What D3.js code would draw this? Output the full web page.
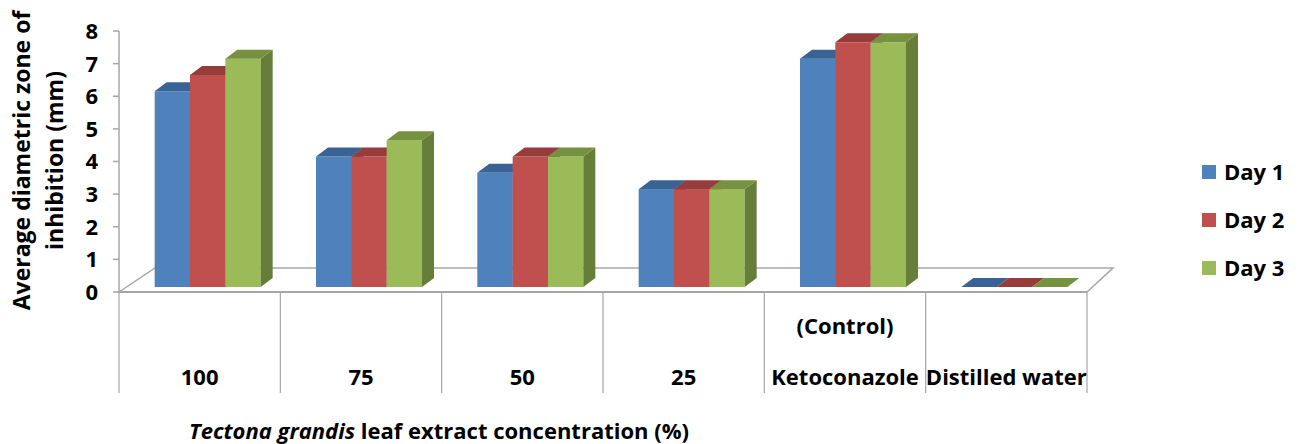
<!DOCTYPE html>
<html>
<head>
<meta charset="utf-8">
<script src="https://cdn.jsdelivr.net/npm/d3@7"></script>
<style>
  body { margin: 0; background: #fff; }
  svg { display: block; font-family: "Open Sans", Lato, sans-serif; font-weight: 700; }
</style>
</head>
<body>
<div id="chart"></div>
<script>
// data
const categories = ["100", "75", "50", "25", "Ketoconazole", "Distilled water"];
const seriesNames = ["Day 1", "Day 2", "Day 3"];
const day1 = [6, 4, 3.5, 3, 7, 0];
const day2 = [6.5, 4, 4, 3, 7.5, 0];
const day3 = [7, 4.5, 4, 3, 7.5, 0];
const yTicks = [0, 1, 2, 3, 4, 5, 6, 7, 8];

const seriesValues = [day1, day2, day3];
const colors = {
    front: ["#4F81BD", "#C0504D", "#9BBB59"],
    top: ["#3A6395", "#963C3A", "#76913F"],
    side: ["#3A5F8C", "#8E3A38", "#677E3A"]
};

const W = 1298, H = 444;
const fontSize = "22px";
const svg = d3.select("#chart").append("svg")
    .attr("width", W).attr("height", H);

// front plane scales
const y = d3.scaleLinear().domain([0, 8]).range([292, 31]);
const x = d3.scaleBand().domain(categories).range([119, 1087]);
const groupWidth = 106;
const xs = d3.scaleBand().domain(seriesNames).range([0, groupWidth]);

// 3d offsets
const floorDx = 36, floorDy = -24;   // depth of floor
const barShiftX = 8, barShiftY = -5; // bar front face set back from floor edge
const barDx = 12, barDy = -9;        // bar depth

const grid = "#a6a6a6";

// floor
const x0 = x.range()[0], x1 = x.range()[1], yb = y(0);
svg.append("path")
    .attr("d", `M${x0},${yb} L${x0 + floorDx},${yb + floorDy} L${x1 + floorDx - 10},${yb + floorDy} L${x1},${yb} Z`)
    .attr("fill", "#fff")
    .attr("stroke", grid)
    .attr("stroke-width", 1.5);

// y axis
svg.append("line")
    .attr("x1", x0).attr("x2", x0)
    .attr("y1", y(8)).attr("y2", y(0))
    .attr("stroke", grid).attr("stroke-width", 1.5);

svg.selectAll(".ytick").data(yTicks).enter()
    .append("line")
    .attr("class", "ytick")
    .attr("x1", x0 - 6).attr("x2", x0)
    .attr("y1", d => y(d)).attr("y2", d => y(d))
    .attr("stroke", grid).attr("stroke-width", 1.5);

svg.selectAll(".ylab").data(yTicks).enter()
    .append("text")
    .attr("class", "ylab")
    .attr("x", x0 - 21)
    .attr("y", d => y(d))
    .attr("dy", "0.36em")
    .attr("text-anchor", "end")
    .style("font-size", fontSize)
    .text(d => d);

// y axis title
const yTitle = svg.append("text")
    .attr("transform", `translate(30,${(y(8) + y(0)) / 2 - 1}) rotate(-90)`)
    .attr("text-anchor", "middle")
    .style("font-size", "23px");
yTitle.append("tspan").attr("x", 0).attr("y", 0).text("Average diametric zone of");
yTitle.append("tspan").attr("x", 0).attr("y", 33).text("inhibition (mm)");

// x category dividers
const bounds = categories.map(c => x(c)).concat([x1]);
svg.selectAll(".xdiv").data(bounds).enter()
    .append("line")
    .attr("class", "xdiv")
    .attr("x1", d => d).attr("x2", d => d)
    .attr("y1", yb).attr("y2", yb + 101)
    .attr("stroke", grid).attr("stroke-width", 1.2);

// front floor edge drawn over dividers
svg.append("line")
    .attr("x1", x0).attr("x2", x1)
    .attr("y1", yb).attr("y2", yb)
    .attr("stroke", grid).attr("stroke-width", 2);

// bars
const barW = xs.bandwidth();
categories.forEach((cat, ci) => {
    const gx = x(cat) + (x.bandwidth() - groupWidth) / 2 + barShiftX;
    seriesNames.forEach((s, si) => {
        const v = seriesValues[si][ci];
        const left = gx + xs(s);
        const right = left + barW;
        const bottom = y(0) + barShiftY;
        const top = y(v) + barShiftY;
        const g = svg.append("g").attr("class", "bar");
        if (v > 0) {
            g.append("rect")
                .attr("x", left).attr("y", top)
                .attr("width", barW).attr("height", bottom - top)
                .attr("fill", colors.front[si]);
            g.append("path")
                .attr("d", `M${right},${top} L${right + barDx},${top + barDy} L${right + barDx},${bottom + barDy} L${right},${bottom} Z`)
                .attr("fill", colors.side[si]);
        }
        g.append("path")
            .attr("d", `M${left},${top} L${left + barDx},${top + barDy} L${right + barDx},${top + barDy} L${right},${top} Z`)
            .attr("fill", colors.top[si]);
    });
});

// category labels
svg.selectAll(".xlab").data(categories).enter()
    .append("text")
    .attr("class", "xlab")
    .attr("x", d => x(d) + x.bandwidth() / 2)
    .attr("y", 385)
    .attr("text-anchor", "middle")
    .style("font-size", fontSize)
    .text(d => d);

svg.append("text")
    .attr("x", x("Ketoconazole") + x.bandwidth() / 2)
    .attr("y", 334)
    .attr("text-anchor", "middle")
    .style("font-size", fontSize)
    .text("(Control)");

// x axis title
const xTitle = svg.append("text")
    .attr("x", 439).attr("y", 439)
    .attr("text-anchor", "middle")
    .style("font-size", fontSize);
xTitle.append("tspan").style("font-style", "italic").text("Tectona grandis");
xTitle.append("tspan").text(" leaf extract concentration (%)");

// legend
const legend = svg.selectAll(".legend").data(seriesNames).enter()
    .append("g")
    .attr("class", "legend")
    .attr("transform", (d, i) => `translate(1202,${165 + i * 48})`);
legend.append("rect")
    .attr("width", 14).attr("height", 14)
    .attr("fill", (d, i) => colors.front[i]);
legend.append("text")
    .attr("x", 22).attr("y", 7).attr("dy", "0.36em")
    .style("font-size", fontSize)
    .text(d => d);
</script>
</body>
</html>
